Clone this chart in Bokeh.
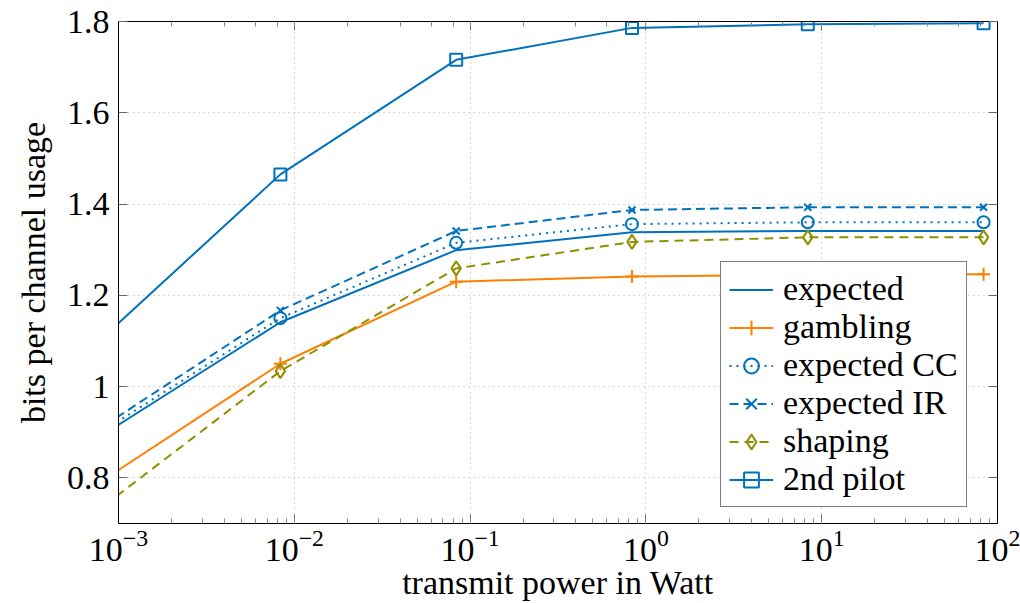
from bokeh.plotting import figure
from bokeh.models import (LogAxis, LinearAxis, FixedTicker, LogTicker, Range1d,
                          Legend, LegendItem)
from bokeh.embed import file_html
from bokeh.resources import INLINE

# ---- data ----
power = [1/1200, 1/120, 1/12, 10/12, 100/12, 1000/12]
expected    = [0.897, 1.141, 1.299, 1.338, 1.341, 1.341]
gambling    = [0.797, 1.050, 1.230, 1.241, 1.245, 1.246]
expected_cc = [0.905, 1.150, 1.315, 1.356, 1.360, 1.360]
expected_ir = [0.915, 1.167, 1.341, 1.387, 1.393, 1.393]
shaping     = [0.740, 1.034, 1.259, 1.317, 1.327, 1.327]
pilot2      = [1.111, 1.465, 1.716, 1.786, 1.794, 1.796]
y_ticks = [0.8, 1.0, 1.2, 1.4, 1.6, 1.8]
y_labels = {0.8: "0.8", 1: "1", 1.2: "1.2", 1.4: "1.4", 1.6: "1.6", 1.8: "1.8"}

BLUE = "#0072BD"
ORANGE = "#FF8000"
OLIVE = "#8f8f00"
FONT = "Liberation Serif"
FS = "34px"

p = figure(width=1020, height=603, x_axis_type="log",
           x_range=Range1d(1e-3, 1e2), y_range=Range1d(0.7, 1.8),
           output_backend="svg", toolbar_location=None,
           min_border_left=118, min_border_right=23,
           min_border_top=21, min_border_bottom=79)
p.background_fill_color = "white"
p.border_fill_color = "white"
p.outline_line_color = "black"
p.outline_line_width = 1

yt = FixedTicker(ticks=y_ticks, minor_ticks=[])
p.yaxis.ticker = yt
p.yaxis.major_label_overrides = y_labels
p.ygrid.ticker = yt

for ax in (p.xaxis[0], p.yaxis[0]):
    ax.major_tick_in = 9
    ax.major_tick_out = 0
    ax.minor_tick_in = 5
    ax.minor_tick_out = 0
    ax.major_tick_line_color = "#666666"
    ax.minor_tick_line_color = "#888888"
    ax.axis_line_color = "black"
    ax.major_label_text_font = FONT
    ax.major_label_text_font_size = FS
    ax.major_label_text_color = "black"
    ax.axis_label_text_font = FONT
    ax.axis_label_text_font_size = FS
    ax.axis_label_text_font_style = "normal"
    ax.axis_label_text_color = "black"

p.xaxis.axis_label = "transmit power in Watt"
p.yaxis.axis_label = "bits per channel usage"
p.xaxis.major_label_standoff = 6
p.yaxis.major_label_standoff = 9
p.xaxis.axis_label_standoff = 0
p.yaxis.axis_label_standoff = 12

top = LogAxis(ticker=LogTicker())
right = LinearAxis(ticker=yt)
for ax in (top, right):
    ax.major_tick_in = 9
    ax.major_tick_out = 0
    ax.minor_tick_in = 5
    ax.minor_tick_out = 0
    ax.major_tick_line_color = "#666666"
    ax.minor_tick_line_color = "#888888"
    ax.axis_line_color = "black"
    ax.major_label_text_font_size = "1px"
    ax.major_label_text_alpha = 0
    ax.major_label_standoff = 0
p.add_layout(top, "above")
p.add_layout(right, "right")

for g in (p.xgrid[0], p.ygrid[0]):
    g.grid_line_color = "#b0b0b0"
    g.grid_line_dash = "1 4"
    g.grid_line_width = 1

series = [
    ("expected", expected, BLUE, "solid", None),
    ("gambling", gambling, ORANGE, "solid", "cross"),
    ("expected CC", expected_cc, BLUE, "2 5", "circle"),
    ("expected IR", expected_ir, BLUE, "9 5", "x"),
    ("shaping", shaping, OLIVE, "9 6", "diamond"),
    ("2nd pilot", pilot2, BLUE, "solid", "square"),
]
sizes = {"cross": 13, "circle": 12, "x": 10, "diamond": 14, "square": 12}

items = []
for name, vals, color, dash, marker in series:
    rs = [p.line(power, vals, line_color=color, line_width=2, line_dash=dash)]
    if marker:
        rs.append(p.scatter(power, vals, marker=marker, size=sizes[marker],
                            line_color=color, line_width=2,
                            fill_color="white", fill_alpha=0))
    items.append(LegendItem(label=name, renderers=rs))

legend = Legend(items=items, location=(602, 16))
legend.label_text_font = FONT
legend.label_text_font_size = FS
legend.label_text_color = "black"
legend.label_height = 37
legend.glyph_height = 37
legend.glyph_width = 44
legend.label_standoff = 10
legend.spacing = 0
legend.padding = 8
legend.margin = 0
legend.border_line_color = "black"
legend.border_line_width = 1
legend.background_fill_alpha = 1
p.add_layout(legend, "center")

open("out.html", "w").write(file_html(p, INLINE))
